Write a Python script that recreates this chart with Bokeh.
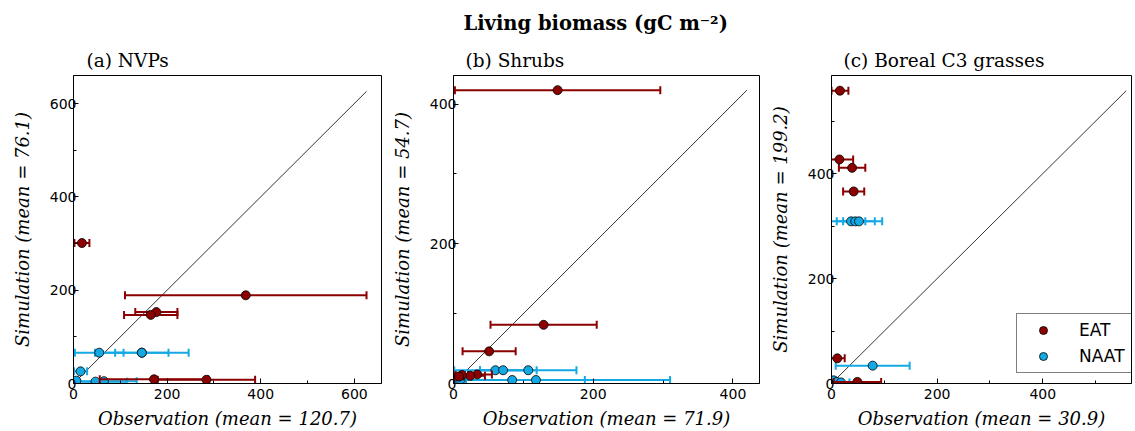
import math
from bokeh.plotting import figure
from bokeh.models import (Range1d, SingleIntervalTicker, Legend,
                          LegendItem, Title, ColumnDataSource)
from bokeh.layouts import row
from bokeh.embed import file_html
from bokeh.resources import INLINE

# ---------------- data ----------------
SUPTITLE = "Living biomass (gC m\u207b\u00b2)"
panel_titles = ["(a) NVPs", "(b) Shrubs", "(c) Boreal C3 grasses"]
obs_means = ["120.7", "71.9", "30.9"]
sim_means = ["76.1", "54.7", "199.2"]
series_names = ["EAT", "NAAT"]

# (a) NVPs
a_eat_obs = [18, 368, 177, 165, 172, 284]
a_eat_sim = [301, 189, 153, 147, 9, 8]
a_eat_err = [16, 258, 45, 57, 116, 104]
a_naat_obs = [55, 146, 146, 15, 6, 47, 65]
a_naat_sim = [66, 66, 66, 26, 6, 4, 5]
a_naat_err = [52, 100, 57, 14, 4, 67, 70]

# (b) Shrubs
b_eat_obs = [149, 129, 51, 34, 24, 12, 8]
b_eat_sim = [420, 84, 46, 13, 11, 12, 10]
b_eat_err = [147, 76, 38, 21, 21, 9, 6]
b_naat_obs = [60, 71, 107, 10, 84, 118]
b_naat_sim = [19, 19, 19, 5, 5, 5]
b_naat_err = [59, 33, 69, 8, 104, 192]

# (c) Boreal C3 grasses
c_eat_obs = [16, 15, 39, 42, 11, 49]
c_eat_sim = [558, 427, 411, 366, 48, 3]
c_eat_err = [16, 26, 25, 20, 14, 45]
c_naat_obs = [37, 45, 52, 78, 4, 10, 18]
c_naat_sim = [309, 309, 309, 34, 6, 3, 2]
c_naat_err = [27, 51, 30, 70, 4, 10, 16]

# axis limits (x_max, y_max) per panel
x_max = [658, 438, 568]
y_max = [660, 441, 587]

# ---------------- style ----------------
EAT_COLOR = "#8b0000"
NAAT_COLOR = "#14a9e4"
SERIF = "DejaVu Serif"
SANS = "DejaVu Sans"
FH = 308
TOP = 75
BOTTOM = 46


def style_axis(ax, vertical=False):
    ax.ticker = SingleIntervalTicker(interval=200, num_minor_ticks=2)
    ax.major_tick_in = 5
    ax.major_tick_out = 0
    ax.minor_tick_in = 3
    ax.minor_tick_out = 0
    ax.axis_line_color = "black"
    ax.major_tick_line_color = "black"
    ax.minor_tick_line_color = "black"
    ax.major_label_text_font = SANS
    ax.major_label_text_color = "black"
    ax.major_label_text_font_size = "14px"
    ax.major_label_standoff = -3 if vertical else 5
    ax.axis_label_text_font = SERIF
    ax.axis_label_text_font_style = "italic"
    ax.axis_label_text_font_size = "18px"
    ax.axis_label_text_color = "black"
    ax.axis_label_standoff = 14 if vertical else 6


def add_series(p, obs, sim, err, color):
    lo = [o - e for o, e in zip(obs, err)]
    hi = [o + e for o, e in zip(obs, err)]
    src = ColumnDataSource(dict(obs=obs, sim=sim, lo=lo, hi=hi))
    p.segment(x0="lo", y0="sim", x1="hi", y1="sim", source=src,
              line_color=color, line_width=2)
    p.scatter(x="lo", y="sim", source=src, marker="dash", angle=math.pi / 2,
              size=8, line_color=color, line_width=2)
    p.scatter(x="hi", y="sim", source=src, marker="dash", angle=math.pi / 2,
              size=8, line_color=color, line_width=2)
    r = p.scatter(x="obs", y="sim", source=src, marker="circle", size=9,
                  fill_color=color, line_color="black", line_width=0.8)
    return r


def build(i, eat, naat, left, fw, right, title_offset,
          with_legend=False, with_suptitle=False):
    p = figure(frame_width=fw, frame_height=FH,
               min_border_left=left, min_border_right=right,
               min_border_top=TOP, min_border_bottom=BOTTOM,
               x_range=Range1d(0, x_max[i]), y_range=Range1d(0, y_max[i]),
               output_backend="svg", toolbar_location=None, title=None)
    p.background_fill_color = "white"
    p.border_fill_color = "white"
    p.outline_line_color = "black"
    p.outline_line_width = 1
    p.xgrid.visible = False
    p.ygrid.visible = False

    style_axis(p.xaxis[0])
    style_axis(p.yaxis[0], vertical=True)
    p.xaxis[0].axis_label = "Observation (mean = %s)" % obs_means[i]
    p.yaxis[0].axis_label = "Simulation (mean = %s)" % sim_means[i]

    p.add_layout(Title(text=panel_titles[i], text_font=SERIF, text_font_style="normal",
                       text_font_size="18.5px", text_color="black", align="left",
                       offset=title_offset, standoff=10), "above")
    if with_suptitle:
        p.add_layout(Title(text=SUPTITLE, text_font=SERIF, text_font_style="bold",
                           text_font_size="19.5px", text_color="black", align="left",
                           offset=10, standoff=16), "above")

    # 1:1 line up to the largest value in the panel
    all_vals = (list(eat[1]) + list(naat[1]) +
                [o + e for o, e in zip(eat[0], eat[2])] +
                [o + e for o, e in zip(naat[0], naat[2])])
    m = max(all_vals)
    p.line(x=[0, m], y=[0, m], line_color="black", line_width=0.8)

    r_naat = add_series(p, naat[0], naat[1], naat[2], NAAT_COLOR)
    r_eat = add_series(p, eat[0], eat[1], eat[2], EAT_COLOR)

    if with_legend:
        leg = Legend(items=[LegendItem(label=series_names[0], renderers=[r_eat]),
                            LegendItem(label=series_names[1], renderers=[r_naat])],
                     location=(fw - 115, 10), margin=0, padding=6, spacing=6,
                     glyph_width=40, glyph_height=20, label_height=20,
                     label_standoff=16, label_text_font=SANS,
                     label_text_font_size="17px", label_text_color="black",
                     border_line_color="black", border_line_width=1,
                     background_fill_color="white", background_fill_alpha=1)
        p.add_layout(leg)
    return p


pa = build(0, (a_eat_obs, a_eat_sim, a_eat_err), (a_naat_obs, a_naat_sim, a_naat_err),
           73, 308, 1, 13)
pb = build(1, (b_eat_obs, b_eat_sim, b_eat_err), (b_naat_obs, b_naat_sim, b_naat_err),
           71, 306, 1, 12, with_suptitle=True)
pc = build(2, (c_eat_obs, c_eat_sim, c_eat_err), (c_naat_obs, c_naat_sim, c_naat_err),
           71, 300, 3, 12, with_legend=True)

layout = row(pa, pb, pc, spacing=0)
open("out.html", "w").write(file_html(layout, INLINE))
